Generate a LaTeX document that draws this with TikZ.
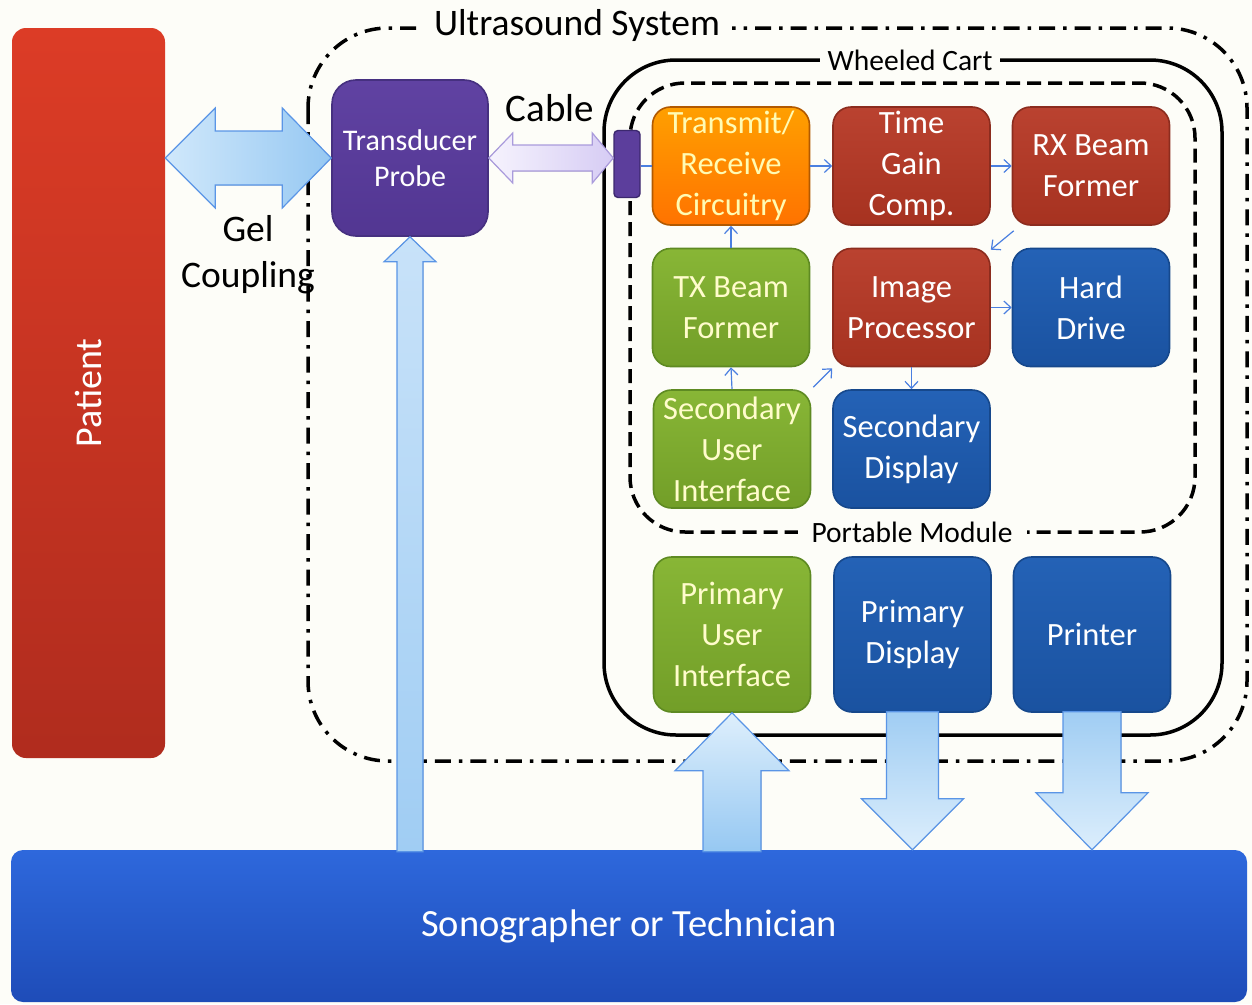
\documentclass[tikz,border=0pt]{standalone}
\usepackage{fontspec}
\setmainfont{Carlito}
\usetikzlibrary{calc,arrows.meta}

\definecolor{bg}{HTML}{FDFDF8}
\definecolor{linkblue}{HTML}{4A7FE0}
\definecolor{arrowedge}{HTML}{5A95E6}

\tikzset{
  box/.style={rounded corners=18pt, draw, line width=1.6pt, minimum width=157pt,
    minimum height=118pt, align=center, inner sep=0pt, text=white,
    font=\fontsize{32.5}{41}\selectfont},
  orangebox/.style={box, draw=orange!70!black, top color=orange!75!yellow, bottom color=orange!90!red, text=yellow!30!white},
  redbox/.style={box, draw={rgb,255:red,140;green,44;blue,30}, top color={rgb,255:red,186;green,66;blue,48}, bottom color={rgb,255:red,166;green,50;blue,32}},
  greenbox/.style={box, draw={rgb,255:red,94;green,138;blue,34}, top color={rgb,255:red,136;green,182;blue,54}, bottom color={rgb,255:red,114;green,158;blue,40}, text=yellow!20!white},
  bluebox/.style={box, draw={rgb,255:red,22;green,72;blue,140}, top color={rgb,255:red,36;green,98;blue,182}, bottom color={rgb,255:red,26;green,82;blue,160}},
  link/.style={draw=linkblue, line width=1.2pt, -{Straight Barb[length=7pt,width=13pt]}},
  blockup/.style={draw=arrowedge, line width=1.2pt, top color={rgb,255:red,222;green,239;blue,252}, bottom color={rgb,255:red,150;green,200;blue,242}},
  blockdown/.style={draw=arrowedge, line width=1.2pt, top color={rgb,255:red,160;green,205;blue,243}, bottom color={rgb,255:red,220;green,238;blue,252}},
  frame/.style={line width=3.5pt, black},
  framelabel/.style={fill=bg, inner ysep=2pt, text=black},
}

\begin{document}
\begin{tikzpicture}[x=1pt,y=-1pt]
\fill[bg] (0,0) rectangle (1252,1004);
\useasboundingbox (0,0) rectangle (1252,1004);

% Patient and operator bars
\node[rounded corners=14pt, minimum width=153pt, minimum height=730pt, inner sep=0pt,
  top color={rgb,255:red,220;green,60;blue,38}, bottom color={rgb,255:red,176;green,44;blue,30}]
  (patient) at (88.5,393) {};
\node[rotate=90, text=white, font=\fontsize{38}{42}\selectfont] (patientlabel) at (patient.center) {Patient};

\node[rounded corners=12pt, minimum width=1236pt, minimum height=152pt, inner sep=0pt,
  top color={rgb,255:red,46;green,104;blue,220}, bottom color={rgb,255:red,30;green,76;blue,184},
  text=white, font=\fontsize{38.5}{42}\selectfont] (sono) at (629,926) {Sonographer or Technician};

% System outlines
\draw[frame, dash pattern=on 16pt off 8pt on 3.5pt off 8pt, rounded corners=80pt]
  (308,28) rectangle (1247,761);
\node[framelabel, inner xsep=12pt, font=\fontsize{37.5}{42}\selectfont] (uslabel) at (577,26) {Ultrasound System};

\draw[frame, rounded corners=72pt] (604,60) rectangle (1222,735);
\node[framelabel, inner xsep=8pt, font=\fontsize{29.5}{33}\selectfont] (cartlabel) at (910,60) {Wheeled Cart};

\draw[frame, dash pattern=on 14pt off 7pt, rounded corners=55pt] (630,83) rectangle (1195,532);
\node[framelabel, inner xsep=14pt, font=\fontsize{29.5}{33}\selectfont] (pmlabel) at (912,532) {Portable Module};

% Probe and cable plug
\node[box, minimum width=156pt, minimum height=156pt, rounded corners=24pt,
  draw={rgb,255:red,70;green,48;blue,128}, top color={rgb,255:red,96;green,66;blue,162}, bottom color={rgb,255:red,82;green,54;blue,146},
  font=\fontsize{30}{36}\selectfont] (probe) at (410,158) {Transducer\\Probe};
\node[draw={rgb,255:red,60;green,40;blue,110}, line width=1.4pt, rounded corners=4pt, fill={rgb,255:red,92;green,62;blue,156},
  minimum width=26pt, minimum height=67pt, inner sep=0pt] (plug) at (627,164) {};

% Portable module blocks
\node[orangebox] (trx) at (731,166) {Transmit/\\Receive\\Circuitry};
\node[redbox] (tgc) at (911.5,166) {Time\\Gain\\Comp.};
\node[redbox] (rxbf) at (1091,166) {RX Beam\\Former};
\node[greenbox] (txbf) at (731,307.5) {TX Beam\\Former};
\node[redbox] (ip) at (911.5,307.5) {Image\\Processor};
\node[bluebox] (hd) at (1091,307.5) {Hard\\Drive};
\node[greenbox] (sui) at (732,449) {Secondary\\User\\Interface};
\node[bluebox] (sd) at (911.5,449) {Secondary\\Display};

% Cart blocks
\node[greenbox, minimum height=155pt] (pui) at (732,634.5) {Primary\\User\\Interface};
\node[bluebox, minimum height=155pt] (pd) at (912.5,634.5) {Primary\\Display};
\node[bluebox, minimum height=155pt] (prn) at (1092,634.5) {Printer};

% Signal links
\draw[draw=linkblue, line width=1.2pt] (plug.east |- trx.west) -- (trx.west);
\draw[link] (trx.east) -- (tgc.west);
\draw[link] (tgc.east) -- (rxbf.west);
\draw[link] ($(rxbf.south west)+(2,5)$) -- ($(ip.north east)+(0,2)$);
\draw[link] (txbf.north) -- (trx.south);
\draw[link] (ip.east) -- (hd.west);
\draw[link] (sui.north) -- (txbf.south);
\draw[link] ($(sui.north east)+(2,-2)$) -- ($(ip.south west)+(0,1)$);
\draw[link] (ip.south) -- (sd.north);

% Gel coupling (double block arrow)
\coordinate (gl) at (patient.east |- probe.west);
\coordinate (gr) at (probe.west);
\filldraw[draw=arrowedge, line width=1.2pt, left color={rgb,255:red,208;green,232;blue,251}, right color={rgb,255:red,150;green,200;blue,242}]
  (gl) -- ($(gl)+(50,-50)$) -- ($(gl)+(50,-27)$) -- ($(gr)+(-49,-27)$) -- ($(gr)+(-49,-50)$)
  -- (gr) -- ($(gr)+(-49,50)$) -- ($(gr)+(-49,27)$) -- ($(gl)+(50,27)$) -- ($(gl)+(50,50)$) -- cycle;
\node[font=\fontsize{37.5}{46}\selectfont, align=center] (gellabel) at (248,255) {Gel\\Coupling};

% Cable (double block arrow)
\coordinate (cl) at (probe.east);
\coordinate (cr) at (plug.west |- probe.east);
\filldraw[draw={rgb,255:red,170;green,155;blue,220}, line width=1.2pt, left color={rgb,255:red,246;green,243;blue,253}, right color={rgb,255:red,214;green,204;blue,244}]
  (cl) -- ($(cl)+(24,-25)$) -- ($(cl)+(24,-13)$) -- ($(cr)+(-21,-13)$) -- ($(cr)+(-21,-25)$)
  -- (cr) -- ($(cr)+(-21,25)$) -- ($(cr)+(-21,13)$) -- ($(cl)+(24,13)$) -- ($(cl)+(24,25)$) -- cycle;
\node[font=\fontsize{39}{42}\selectfont] (cablelabel) at (550,108) {Cable};

% Operator to probe
\coordinate (pt) at (probe.south);
\coordinate (pb) at (probe.south |- sono.north);
\filldraw[draw=arrowedge, line width=1.2pt, top color={rgb,255:red,200;green,226;blue,249}, bottom color={rgb,255:red,160;green,205;blue,243}]
  (pt) -- ($(pt)+(26,25)$) -- ($(pt)+(13,25)$) -- ($(pb)+(13,2)$) -- ($(pb)+(-13,2)$) -- ($(pt)+(-13,25)$) -- ($(pt)+(-26,25)$) -- cycle;

% Operator to primary user interface
\coordinate (ut) at (pui.south);
\coordinate (ub) at (pui.south |- sono.north);
\filldraw[blockup]
  (ut) -- ($(ut)+(57,58)$) -- ($(ut)+(29,58)$) -- ($(ub)+(29,2)$) -- ($(ub)+(-29,2)$) -- ($(ut)+(-29,58)$) -- ($(ut)+(-57,58)$) -- cycle;

% Primary display to operator
\coordinate (dt) at (pd.south);
\coordinate (db) at (pd.south |- sono.north);
\filldraw[blockdown]
  (db) -- ($(db)+(51,-51)$) -- ($(db)+(26,-51)$) -- ($(dt)+(26,-1)$) -- ($(dt)+(-26,-1)$) -- ($(db)+(-26,-51)$) -- ($(db)+(-51,-51)$) -- cycle;

% Printer to operator
\coordinate (rt) at (prn.south);
\coordinate (rb) at (prn.south |- sono.north);
\filldraw[blockdown]
  (rb) -- ($(rb)+(56,-57)$) -- ($(rb)+(29,-57)$) -- ($(rt)+(29,-1)$) -- ($(rt)+(-29,-1)$) -- ($(rb)+(-29,-57)$) -- ($(rb)+(-56,-57)$) -- cycle;
\end{tikzpicture}
\end{document}
